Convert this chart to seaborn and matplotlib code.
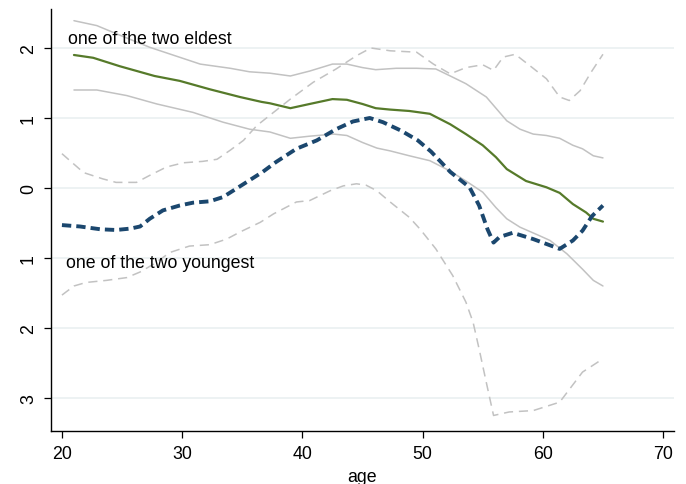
import matplotlib
matplotlib.use("Agg")
import matplotlib.pyplot as plt
import seaborn as sns
import pandas as pd

# ---- data ----
eldest_age = [21.0, 22.6, 24.8, 27.7, 29.8, 32.3, 34.8, 36.6, 37.3, 39.0, 40.6, 42.5, 43.7,
              45.0, 46.1, 47.3, 48.9, 50.6, 52.3, 53.6, 55.0, 56.1, 57.0, 58.6, 60.3,
              61.4, 62.5, 63.6, 64.2, 65.0]
eldest = [1.90, 1.86, 1.74, 1.60, 1.53, 1.41, 1.30, 1.23, 1.21, 1.14, 1.20, 1.27, 1.26,
          1.20, 1.14, 1.12, 1.10, 1.06, 0.91, 0.77, 0.61, 0.44, 0.27, 0.10, 0.01,
          -0.07, -0.23, -0.35, -0.44, -0.48]

eldest_hi_age = [21.0, 22.9, 25.0, 27.3, 31.5, 34.0, 35.6, 37.3, 39.0, 40.6, 42.5, 43.7, 45.0,
                 46.1, 47.8, 49.5, 51.1, 52.3, 53.6, 55.3, 56.4, 57.0, 58.1, 59.2, 60.3,
                 61.4, 62.5, 63.3, 64.2, 65.0]
eldest_hi = [2.39, 2.32, 2.17, 2.01, 1.77, 1.71, 1.66, 1.64, 1.60, 1.67, 1.77, 1.77, 1.72,
             1.69, 1.71, 1.71, 1.70, 1.60, 1.49, 1.30, 1.08, 0.96, 0.84, 0.77, 0.75,
             0.71, 0.61, 0.56, 0.46, 0.43]

eldest_lo_age = [21.0, 22.9, 25.4, 27.9, 30.9, 33.4, 35.6, 37.3, 39.0, 40.6, 42.6, 43.7, 45.0,
                 46.2, 47.3, 48.9, 50.6, 52.2, 53.6, 55.0, 56.1, 57.0, 58.1, 59.7, 60.6,
                 62.0, 63.3, 64.2, 65.0]
eldest_lo = [1.40, 1.40, 1.32, 1.20, 1.08, 0.94, 0.84, 0.80, 0.71, 0.74, 0.77, 0.75, 0.65,
             0.57, 0.53, 0.46, 0.39, 0.25, 0.10, -0.06, -0.28, -0.44, -0.56, -0.68, -0.75,
             -0.94, -1.16, -1.32, -1.40]

youngest_age = [20.0, 21.5, 23.2, 24.5, 25.7, 26.5, 27.3, 28.4, 29.8, 30.9, 32.3, 33.4, 34.5,
                35.6, 36.7, 37.8, 39.5, 41.2, 42.8, 44.2, 45.6, 46.7, 48.2, 49.6, 50.7,
                52.3, 53.9, 54.7, 55.4, 55.9, 56.4, 57.5, 59.2, 61.4, 62.5, 63.3, 64.1, 65.0]
youngest = [-0.53, -0.55, -0.59, -0.60, -0.58, -0.55, -0.44, -0.32, -0.25, -0.21, -0.19, -0.13, -0.01,
            0.11, 0.23, 0.37, 0.56, 0.68, 0.84, 0.95, 1.00, 0.94, 0.82, 0.68, 0.52,
            0.23, 0.01, -0.25, -0.59, -0.78, -0.70, -0.64, -0.73, -0.87, -0.75, -0.61, -0.40, -0.25]

youngest_hi_age = [20.0, 21.8, 23.4, 24.5, 26.2, 27.3, 28.7, 30.1, 31.7, 32.9, 34.0, 35.1, 36.2,
                   37.6, 39.0, 40.9, 42.8, 44.5, 45.7, 47.3, 49.5, 50.9, 52.3, 53.6, 55.0,
                   55.9, 56.7, 57.7, 58.9, 60.3, 61.4, 62.2, 63.1, 64.0, 65.0]
youngest_hi = [0.49, 0.22, 0.13, 0.08, 0.08, 0.18, 0.30, 0.36, 0.38, 0.41, 0.54, 0.68, 0.89,
               1.08, 1.27, 1.51, 1.70, 1.89, 2.00, 1.96, 1.94, 1.77, 1.63, 1.72, 1.76,
               1.68, 1.87, 1.91, 1.75, 1.56, 1.30, 1.25, 1.39, 1.65, 1.91]

youngest_lo_age = [20.0, 21.0, 22.0, 23.7, 25.4, 26.5, 27.6, 29.0, 30.6, 32.3, 33.7, 34.8, 36.5,
                   37.6, 39.5, 40.6, 42.3, 43.4, 44.5, 45.3, 46.2, 47.3, 48.9, 49.8, 51.1,
                   52.5, 53.6, 54.2, 54.7, 55.3, 55.9, 57.2, 59.2, 61.4, 63.3, 65.0]
youngest_lo = [-1.53, -1.40, -1.35, -1.32, -1.28, -1.20, -1.09, -0.92, -0.83, -0.81, -0.73, -0.63, -0.49,
               -0.37, -0.20, -0.18, -0.04, 0.03, 0.06, 0.04, -0.04, -0.20, -0.42, -0.59, -0.87,
               -1.25, -1.63, -1.92, -2.30, -2.78, -3.25, -3.20, -3.18, -3.06, -2.63, -2.44]

x_ticks = [20, 30, 40, 50, 60, 70]
y_ticks = [2, 1, 0, -1, -2, -3]
y_tick_labels = ["2", "1", "0", "1", "2", "3"]
label_eldest = "one of the two eldest"
label_youngest = "one of the two youngest"
x_label = "age"

# ---- plotting ----
sns.set_theme(style="white")
plt.rcParams['font.family'] = ['Liberation Sans', 'DejaVu Sans']
plt.rcParams['text.color'] = 'black'
plt.rcParams['axes.labelcolor'] = 'black'
plt.rcParams['xtick.color'] = 'black'
plt.rcParams['ytick.color'] = 'black'

FS = 12.8
fig = plt.figure(figsize=(6.86, 4.85), dpi=100)
W, H = 686, 485
ax = fig.add_axes([51 / W, 1 - 432.3 / H, (674 - 51) / W, (432.3 - 10) / H])

grey = "#c2c2c2"
ci_dash_kw = dict(color=grey, lw=1.1, dashes=(6.0, 3.8))
sns.lineplot(x=youngest_hi_age, y=youngest_hi, ax=ax, **ci_dash_kw)
sns.lineplot(x=youngest_lo_age, y=youngest_lo, ax=ax, **ci_dash_kw)
sns.lineplot(x=eldest_hi_age, y=eldest_hi, ax=ax, color=grey, lw=1.1)
sns.lineplot(x=eldest_lo_age, y=eldest_lo, ax=ax, color=grey, lw=1.1)
sns.lineplot(x=eldest_age, y=eldest, ax=ax, color="#567a2a", lw=1.6)
sns.lineplot(x=youngest_age, y=youngest, ax=ax, color="#1b476e", lw=2.8,
             dashes=(2.4, 1.3))
for ln in ax.get_lines():
    ln.set_dash_capstyle("butt")

ax.set_xlim(19.09, 70.91)
ax.set_ylim(-3.476, 2.557)
ax.set_xticks(x_ticks)
ax.set_yticks(y_ticks)
ax.set_yticklabels(y_tick_labels, rotation=90, va="center")
ax.set_xlabel(x_label, fontsize=FS, labelpad=4, color="black")
ax.set_ylabel("")
ax.tick_params(axis="both", which="both", direction="out", length=5, width=0.9,
               color="black", labelcolor="black", labelsize=FS, left=True, bottom=True, pad=5)
ax.grid(axis="y", color="#e8eff0", lw=1.1)
ax.set_axisbelow(True)
for side in ["top", "right"]:
    ax.spines[side].set_visible(False)
for side in ["left", "bottom"]:
    ax.spines[side].set_color("black")
    ax.spines[side].set_linewidth(1.0)

ax.text(20.5, 2.13, label_eldest, fontsize=FS, va="center", ha="left", color="black")
ax.text(20.33, -1.07, label_youngest, fontsize=FS, va="center", ha="left", color="black")

fig.savefig("out.png", dpi=100)
